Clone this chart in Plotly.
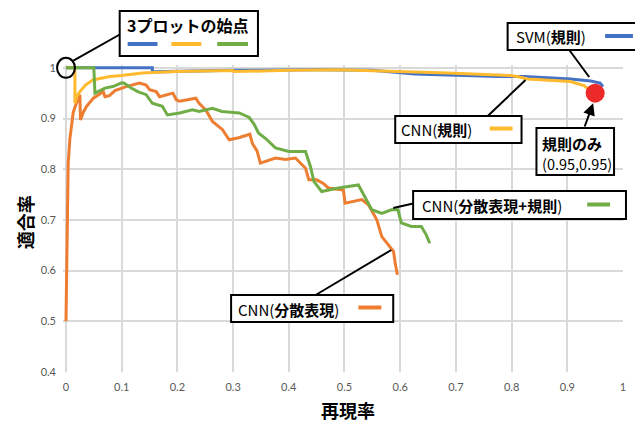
import plotly.graph_objects as go

# ---- data -------------------------------------------------------------
svm_recall = [0, 0.155, 0.155, 0.3, 0.45, 0.55, 0.626, 0.686, 0.775, 0.823,
              0.87, 0.906, 0.942, 0.959, 0.964]
svm_precision = [1, 1, 0.992, 0.995, 0.996, 0.995, 0.988, 0.986, 0.983, 0.983,
                 0.981, 0.978, 0.974, 0.970, 0.963]

cnn_rule_recall = [0, 0.016, 0.016, 0.02, 0.025, 0.035, 0.048, 0.06, 0.079, 0.1,
                   0.137, 0.198, 0.25, 0.3, 0.302, 0.35, 0.4, 0.489, 0.59, 0.686,
                   0.798, 0.81, 0.829, 0.87, 0.905, 0.93, 0.94, 0.945]
cnn_rule_precision = [1, 1, 0.930, 0.945, 0.953, 0.966, 0.976, 0.979, 0.983, 0.985,
                      0.9895, 0.9927, 0.994, 0.9947, 0.9925, 0.994, 0.995, 0.996, 0.993, 0.9895,
                      0.985, 0.983, 0.978, 0.976, 0.973, 0.965, 0.956, 0.943]

cnn_emb_recall = [0, 0.001, 0.002, 0.004, 0.007, 0.01, 0.013, 0.018, 0.022, 0.025,
                  0.026, 0.031, 0.037, 0.049, 0.06, 0.067, 0.07, 0.078, 0.088, 0.108,
                  0.132, 0.144, 0.15, 0.162, 0.168, 0.192, 0.198, 0.204, 0.233, 0.239,
                  0.251, 0.263, 0.281, 0.293, 0.31, 0.33, 0.335, 0.343, 0.349, 0.376,
                  0.394, 0.412, 0.43, 0.436, 0.45, 0.462, 0.471, 0.498, 0.501, 0.531,
                  0.543, 0.558, 0.567, 0.579, 0.588, 0.591, 0.595]
cnn_emb_precision = [0.5, 0.6, 0.7, 0.812, 0.86, 0.884, 0.912, 0.928, 0.937, 0.947,
                     0.897, 0.912, 0.924, 0.94, 0.948, 0.953, 0.943, 0.945, 0.955, 0.963,
                     0.97, 0.966, 0.957, 0.953, 0.943, 0.95, 0.937, 0.934, 0.94, 0.93,
                     0.917, 0.894, 0.878, 0.858, 0.862, 0.869, 0.85, 0.836, 0.812, 0.822,
                     0.819, 0.822, 0.802, 0.779, 0.779, 0.772, 0.763, 0.759, 0.733, 0.74,
                     0.73, 0.70, 0.667, 0.651, 0.638, 0.615, 0.592]

cnn_emb_rule_recall = [0, 0.05, 0.052, 0.07, 0.084, 0.099, 0.104, 0.117, 0.129, 0.144,
                       0.155, 0.173, 0.182, 0.204, 0.227, 0.239, 0.263, 0.28, 0.311, 0.329,
                       0.337, 0.346, 0.358, 0.376, 0.4, 0.43, 0.439, 0.445, 0.459, 0.489,
                       0.525, 0.54, 0.549, 0.567, 0.584, 0.596, 0.602, 0.62, 0.638, 0.647,
                       0.653]
cnn_emb_rule_precision = [1, 1, 0.95, 0.96, 0.963, 0.970, 0.970, 0.96, 0.953, 0.947,
                          0.93, 0.924, 0.907, 0.911, 0.917, 0.914, 0.92, 0.914, 0.911, 0.902,
                          0.89, 0.871, 0.861, 0.842, 0.835, 0.835, 0.805, 0.776, 0.756, 0.763,
                          0.769, 0.74, 0.72, 0.713, 0.72, 0.72, 0.694, 0.687, 0.687, 0.67,
                          0.654]

rule_only_recall = [0.95]
rule_only_precision = [0.95]

x_ticks = [0, 0.1, 0.2, 0.3, 0.4, 0.5, 0.6, 0.7, 0.8, 0.9, 1]
y_ticks = [0.4, 0.5, 0.6, 0.7, 0.8, 0.9, 1]

# ---- geometry ---------------------------------------------------------
FIG_W, FIG_H = 635, 424
L, R, T, B = 63, 9, 65, 52
W = FIG_W - L - R
H = FIG_H - T - B
X_RANGE = [-3 / 560, 1.0]
Y_RANGE = [0.4, 0.4 + H / 507]


def px(xp):
    return (xp - L) / W


def py(yp):
    return (FIG_H - B - yp) / H


def data_px(x, y):
    xp = L + (x - X_RANGE[0]) / (X_RANGE[1] - X_RANGE[0]) * W
    yp = FIG_H - B - (y - Y_RANGE[0]) / (Y_RANGE[1] - Y_RANGE[0]) * H
    return xp, yp


BLUE = "#4472C4"
ORANGE = "#ED7D31"
GOLD = "#FFBA2E"
GREEN = "#70AD47"
RED = "#EC2A2A"
CJK = "Noto Sans CJK JP"

fig = go.Figure()
for xs, ys, col in [
    (svm_recall, svm_precision, BLUE),
    (cnn_emb_recall, cnn_emb_precision, ORANGE),
    (cnn_rule_recall, cnn_rule_precision, GOLD),
    (cnn_emb_rule_recall, cnn_emb_rule_precision, GREEN),
]:
    fig.add_trace(go.Scatter(x=xs, y=ys, mode="lines",
                             line=dict(color=col, width=3), hoverinfo="skip"))

fig.add_trace(go.Scatter(x=rule_only_recall, y=rule_only_precision, mode="markers",
                         marker=dict(color=RED, size=19, line=dict(width=0))))

shapes = []
annotations = []


def box(x0, y0, x1, y1):
    shapes.append(dict(type="rect", xref="paper", yref="paper",
                       x0=px(x0), x1=px(x1), y0=py(y1), y1=py(y0),
                       line=dict(color="black", width=2), fillcolor="white",
                       layer="above"))


def seg(x0, y0, x1, y1, color="black", width=2):
    shapes.append(dict(type="line", xref="paper", yref="paper",
                       x0=px(x0), x1=px(x1), y0=py(y0), y1=py(y1),
                       line=dict(color=color, width=width), layer="above"))


def text(x, y, s, size=15, xanchor="center", angle=0):
    annotations.append(dict(xref="paper", yref="paper", x=px(x), y=py(y), text=s,
                            showarrow=False, xanchor=xanchor, yanchor="middle",
                            textangle=angle,
                            font=dict(family=CJK, size=size, color="black")))


# starting point marker of the three curves
cx, cy = data_px(0, 1)
shapes.append(dict(type="circle", xref="paper", yref="paper",
                   x0=px(cx - 9), x1=px(cx + 9), y0=py(cy + 10), y1=py(cy - 10),
                   line=dict(color="black", width=2), layer="above"))
seg(cx + 7, cy - 7, 121, 34)
box(120, 11, 259, 56)
text(188, 25, "<b>3プロットの始点</b>", size=16)
seg(128, 44, 158, 44, BLUE, 4)
seg(172, 44, 202, 44, GOLD, 4)
seg(218, 44, 249, 44, GREEN, 4)

# SVM(規則)
seg(572, 50, 592, 77)
box(510, 23, 640, 50)
text(554, 37, "SVM(<b>規則</b>)")
seg(608, 36, 636, 36, BLUE, 4)

# CNN(規則)
seg(490, 116, 528, 80)
box(397, 116, 524, 143)
text(439, 129, "CNN(<b>規則</b>)")
seg(492, 128.5, 515, 128.5, GOLD, 4)

# rule-only point
dx, dy = data_px(rule_only_recall[0], rule_only_precision[0])
annotations.append(dict(xref="paper", yref="paper", x=px(dx - 2), y=py(dy + 10),
                        ax=587 - (dx - 2), ay=128 - (dy + 10), text="",
                        showarrow=True, arrowhead=2, arrowsize=1.2, arrowwidth=2,
                        arrowcolor="black"))
box(539, 128, 617, 175)
text(543, 143, "<b>規則のみ</b>", size=15, xanchor="left")
text(543, 163, "(0.95,0.95)", size=14.5, xanchor="left")

# CNN(分散表現+規則)
seg(415, 203.5, 395, 208)
box(415, 191, 629, 219)
text(494, 205, "CNN(<b>分散表現+規則</b>)")
seg(590, 204.5, 613, 204.5, GREEN, 4)

# CNN(分散表現)
seg(317, 295, 393, 250)
box(232, 295, 395, 322)
text(290, 309, "CNN(<b>分散表現</b>)")
seg(360, 307.5, 383, 307.5, ORANGE, 4)

# axis titles
text(350, 410, "<b>再現率</b>", size=18)
text(25, 222, "<b>適合率</b>", size=18, angle=-90)

GRID = "#D9D9D9"
fig.update_layout(
    width=FIG_W, height=FIG_H,
    margin=dict(l=L, r=R, t=T, b=B, pad=0),
    paper_bgcolor="white", plot_bgcolor="white",
    showlegend=False,
    shapes=shapes, annotations=annotations,
    xaxis=dict(range=X_RANGE, tickvals=x_ticks, ticktext=[f"{v:g}" for v in x_ticks],
               showgrid=True, gridcolor=GRID, gridwidth=1.5, zeroline=False,
               showline=False, ticks="", ticklabelstandoff=7,
               tickfont=dict(family="Lato", size=11, color="#595959"),
               fixedrange=True),
    yaxis=dict(range=Y_RANGE, tickvals=y_ticks, ticktext=[f"{v:g}" for v in y_ticks],
               showgrid=True, gridcolor=GRID, gridwidth=1.5, zeroline=False,
               showline=False, ticks="", ticklabelstandoff=6,
               tickfont=dict(family="Lato", size=11, color="#595959"),
               fixedrange=True),
)

fig.write_html("out.html", config=dict(displayModeBar=False))
